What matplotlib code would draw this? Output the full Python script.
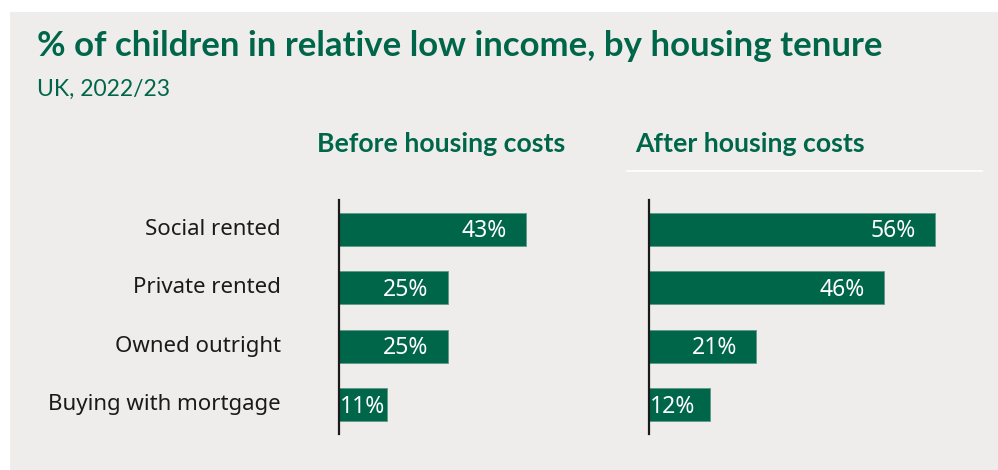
import matplotlib
matplotlib.use("Agg")
import matplotlib.pyplot as plt
from matplotlib.patches import Rectangle
from matplotlib.lines import Line2D

# Data
tenures = ["Social rented", "Private rented", "Owned outright", "Buying with mortgage"]
before_hc = [43, 25, 25, 11]
after_hc = [56, 46, 21, 12]
value_labels_before = ["43%", "25%", "25%", "11%"]
value_labels_after = ["56%", "46%", "21%", "12%"]

title = "% of children in relative low income, by housing tenure"
subtitle = "UK, 2022/23"
panel_titles = ["Before housing costs", "After housing costs"]

GREEN = "#00664A"
BG = "#EFEDEB"
W, H = 998, 470

fig = plt.figure(figsize=(W / 100, H / 100), dpi=100)
fig.patch.set_facecolor("white")

def fx(px):
    return px / W

def fy(py):
    return 1 - py / H

# grey card behind everything
card = Rectangle((fx(10), 0), 1 - fx(10), fy(12), transform=fig.transFigure,
                 facecolor=BG, edgecolor="none", zorder=-5)
fig.patches.append(card)

fig.text(fx(37), fy(46), title, fontsize=25, fontweight="bold", family="Lato",
         color=GREEN, va="center", ha="left")
fig.text(fx(37), fy(89), subtitle, fontsize=16.5, family="Lato", color=GREEN,
         va="center", ha="left")

fig.text(fx(317), fy(144), panel_titles[0], fontsize=19.2, fontweight="bold", family="Lato",
         color=GREEN, va="center", ha="left")
fig.text(fx(635), fy(144), panel_titles[1], fontsize=19.2, fontweight="bold", family="Lato",
         color=GREEN, va="center", ha="left")
fig.lines.append(Line2D([fx(627), fx(982)], [fy(171), fy(171)], transform=fig.transFigure,
                        color="white", lw=1.2))

# axes: left starts at x=339, right at x=649; y from 200 to 434
y_top, y_bot = 200, 434
ax1 = fig.add_axes([fx(339), fy(y_bot), fx(600 - 339), (y_bot - y_top) / H])
ax2 = fig.add_axes([fx(649), fy(y_bot), fx(982 - 649), (y_bot - y_top) / H])
ax1.set_xlim(0, (600 - 339) / 4.35)
ax2.set_xlim(0, (982 - 649) / 5.1)

ypos = list(range(len(tenures)))
renderer = fig.canvas.get_renderer()

for ax, vals, labs in [(ax1, before_hc, value_labels_before), (ax2, after_hc, value_labels_after)]:
    ax.set_facecolor("none")
    ax.set_ylim(len(tenures) - 0.5, -0.5)
    ax.barh(ypos, vals, height=0.57, color=GREEN, edgecolor="#5f9a86", linewidth=0.6, zorder=2)
    for s in ["top", "right", "bottom"]:
        ax.spines[s].set_visible(False)
    ax.spines["left"].set_color("#1a1a1a")
    ax.spines["left"].set_linewidth(1.6)
    ax.spines["left"].set_zorder(3)
    ax.set_xticks([])
    ax.set_yticks([])
    # value labels, right-aligned inside the bar end, kept within the bar start
    x0_px = ax.transData.transform((0, 0))[0]
    for y, v, lab in zip(ypos, vals, labs):
        t = ax.text(v, y + 0.03, lab, color="white", fontsize=16.5, family="Noto Sans",
                    va="center", ha="right", zorder=4)
        bb = t.get_window_extent(renderer)
        end_px = ax.transData.transform((v, y))[0]
        right_px = end_px - 19
        if right_px - bb.width < x0_px + 1:
            right_px = x0_px + 1 + bb.width
        t.set_x(ax.transData.inverted().transform((right_px, 0))[0])

# category labels, right-aligned to the left of the first panel
for y, name in zip(ypos, tenures):
    ydisp = ax1.transData.transform((0, y))[1]
    yfig = fig.transFigure.inverted().transform((0, ydisp))[1]
    fig.text(fx(281), yfig, name, fontsize=16, family="Noto Sans", color="#1a1a1a",
             va="center", ha="right")

fig.savefig("out.png", dpi=100, facecolor=fig.get_facecolor())
